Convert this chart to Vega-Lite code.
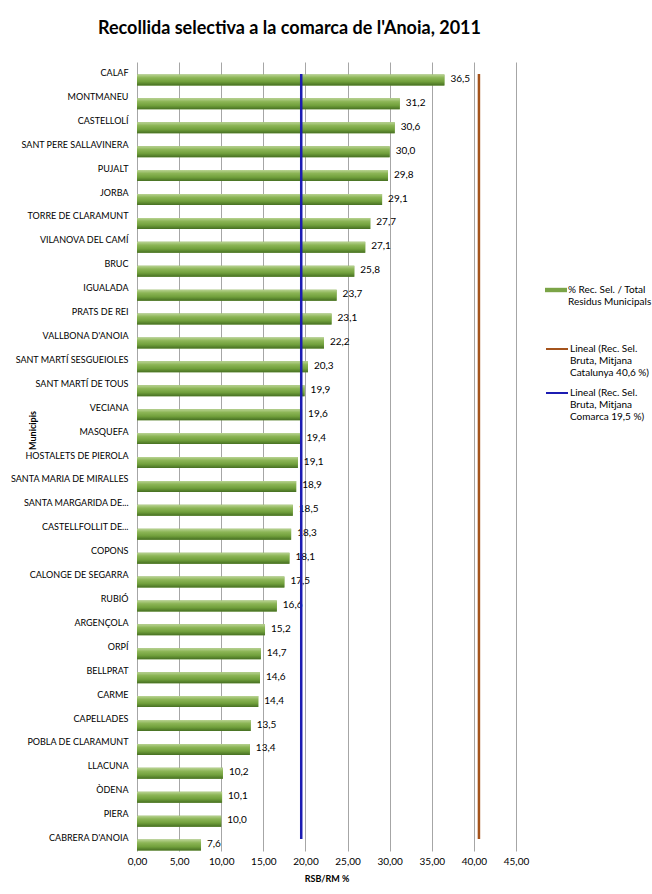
{
  "$schema": "https://vega.github.io/schema/vega-lite/v6.json",
  "width": 379,
  "height": 789,
  "autosize": {"type": "none"},
  "padding": {"left": 137, "top": 62, "right": 136, "bottom": 43},
  "background": "white",
  "title": {
    "text": "Recollida selectiva a la comarca de l'Anoia, 2011",
    "anchor": "start",
    "frame": "group",
    "dx": -39,
    "offset": 24,
    "font": "Lato",
    "fontSize": 18,
    "fontWeight": "bold",
    "color": "#000000"
  },
  "config": {
    "locale": {"number": {"decimal": ",", "thousands": ".", "grouping": [3], "currency": ["", " €"]}},
    "font": "Lato",
    "view": {"stroke": null}
  },
  "datasets": {
    "munis": [
      {"Municipi": "CALAF", "valor": 36.5},
      {"Municipi": "MONTMANEU", "valor": 31.2},
      {"Municipi": "CASTELLOLÍ", "valor": 30.6},
      {"Municipi": "SANT PERE SALLAVINERA", "valor": 30.0},
      {"Municipi": "PUJALT", "valor": 29.8},
      {"Municipi": "JORBA", "valor": 29.1},
      {"Municipi": "TORRE DE CLARAMUNT", "valor": 27.7},
      {"Municipi": "VILANOVA DEL CAMÍ", "valor": 27.1},
      {"Municipi": "BRUC", "valor": 25.8},
      {"Municipi": "IGUALADA", "valor": 23.7},
      {"Municipi": "PRATS DE REI", "valor": 23.1},
      {"Municipi": "VALLBONA D'ANOIA", "valor": 22.2},
      {"Municipi": "SANT MARTÍ SESGUEIOLES", "valor": 20.3},
      {"Municipi": "SANT MARTÍ DE TOUS", "valor": 19.9},
      {"Municipi": "VECIANA", "valor": 19.6},
      {"Municipi": "MASQUEFA", "valor": 19.4},
      {"Municipi": "HOSTALETS DE PIEROLA", "valor": 19.1},
      {"Municipi": "SANTA MARIA DE MIRALLES", "valor": 18.9},
      {"Municipi": "SANTA MARGARIDA DE...", "valor": 18.5},
      {"Municipi": "CASTELLFOLLIT DE...", "valor": 18.3},
      {"Municipi": "COPONS", "valor": 18.1},
      {"Municipi": "CALONGE DE SEGARRA", "valor": 17.5},
      {"Municipi": "RUBIÓ", "valor": 16.6},
      {"Municipi": "ARGENÇOLA", "valor": 15.2},
      {"Municipi": "ORPÍ", "valor": 14.7},
      {"Municipi": "BELLPRAT", "valor": 14.6},
      {"Municipi": "CARME", "valor": 14.4},
      {"Municipi": "CAPELLADES", "valor": 13.5},
      {"Municipi": "POBLA DE CLARAMUNT", "valor": 13.4},
      {"Municipi": "LLACUNA", "valor": 10.2},
      {"Municipi": "ÒDENA", "valor": 10.1},
      {"Municipi": "PIERA", "valor": 10.0},
      {"Municipi": "CABRERA D'ANOIA", "valor": 7.6}
    ],
    "linies": [
      {"serie": "Lineal (Rec. Sel. Bruta, Mitjana Catalunya 40,6 %)", "valor": 40.6, "des_de": "CALAF", "fins_a": "CABRERA D'ANOIA"},
      {"serie": "Lineal (Rec. Sel. Bruta, Mitjana Comarca 19,5 %)", "valor": 19.5, "des_de": "CALAF", "fins_a": "CABRERA D'ANOIA"}
    ]
  },
  "encoding": {
    "y": {
      "field": "Municipi",
      "type": "nominal",
      "sort": null,
      "scale": {"paddingInner": 0, "paddingOuter": 0},
      "axis": {
        "title": "Municipis",
        "titleFont": "Lato",
        "titleFontSize": 9,
        "titleFontWeight": "bold",
        "titleColor": "#000000",
        "titleX": -105,
        "titleY": 368,
        "titleAngle": -90,
        "titleAlign": "center",
        "titleBaseline": "middle",
        "labelFont": "Lato",
        "labelFontSize": 9,
        "labelColor": "#000000",
        "labelPadding": 9,
        "labelOffset": -1,
        "labelLimit": 200,
        "ticks": false,
        "domain": false,
        "grid": false
      }
    }
  },
  "layer": [
    {
      "data": {"name": "munis"},
      "mark": {"type": "bar", "height": 11, "yOffset": 6},
      "encoding": {
        "x": {
          "field": "valor",
          "type": "quantitative",
          "scale": {"domain": [0, 45], "nice": false, "zero": true},
          "axis": {
            "title": "RSB/RM %",
            "titleFont": "Lato",
            "titleFontSize": 9,
            "titleFontWeight": "bold",
            "titleColor": "#000000",
            "titlePadding": 8,
            "values": [0, 5, 10, 15, 20, 25, 30, 35, 40, 45],
            "format": ".2f",
            "labelFont": "Lato",
            "labelFontSize": 10,
            "labelColor": "#000000",
            "labelPadding": 5,
            "labelFlush": false,
            "labelOverlap": false,
            "ticks": false,
            "domain": false,
            "grid": true,
            "gridColor": "#a6a6a6",
            "gridWidth": 1
          }
        },
        "fill": {
          "datum": "% Rec. Sel. / Total Residus Municipals",
          "type": "nominal",
          "scale": {"range": ["#7ba447"]},
          "legend": {
            "title": null,
            "orient": "none",
            "legendX": 408,
            "legendY": 217,
            "symbolType": "M-1,-0.2H1V0.2H-1Z",
            "symbolSize": 484,
            "symbolStrokeWidth": 0,
            "labelFont": "Lato",
            "labelFontSize": 10,
            "labelColor": "#000000",
            "labelOffset": 1,
            "labelExpr": "['% Rec. Sel. / Total', 'Residus Municipals']"
          }
        }
      }
    },
    {
      "data": {"name": "munis"},
      "mark": {
        "type": "bar",
        "height": 11,
        "yOffset": 6,
        "fill": {
          "gradient": "linear",
          "x1": 0, "y1": 0, "x2": 0, "y2": 1,
          "stops": [
            {"offset": 0, "color": "#b9d393"},
            {"offset": 0.3, "color": "#8cb556"},
            {"offset": 0.65, "color": "#71a03c"},
            {"offset": 1, "color": "#466f22"}
          ]
        }
      },
      "encoding": {
        "x": {"field": "valor", "type": "quantitative"}
      }
    },
    {
      "data": {"name": "munis"},
      "mark": {"type": "text", "align": "left", "baseline": "middle", "dx": 6, "yOffset": 5, "font": "Lato", "fontSize": 10, "color": "#000000"},
      "encoding": {
        "x": {"field": "valor", "type": "quantitative"},
        "text": {"field": "valor", "type": "quantitative", "format": ".1f"}
      }
    },
    {
      "data": {"name": "linies"},
      "mark": {"type": "rule", "strokeWidth": 2.5},
      "encoding": {
        "x": {"field": "valor", "type": "quantitative"},
        "y": {"field": "des_de", "type": "nominal", "sort": null},
        "y2": {"field": "fins_a"},
        "stroke": {
          "field": "serie",
          "type": "nominal",
          "scale": {
            "domain": ["Lineal (Rec. Sel. Bruta, Mitjana Catalunya 40,6 %)", "Lineal (Rec. Sel. Bruta, Mitjana Comarca 19,5 %)"],
            "range": ["#a4531c", "#1c1cb2"]
          },
          "legend": {
            "title": null,
            "orient": "none",
            "legendX": 408,
            "legendY": 275,
            "symbolType": "stroke",
            "symbolSize": 484,
            "symbolStrokeWidth": 2,
            "labelFont": "Lato",
            "labelFontSize": 10,
            "labelColor": "#000000",
            "labelOffset": 1,
            "rowPadding": 3,
            "labelExpr": "indexof(datum.label, 'Catalunya') >= 0 ? ['Lineal (Rec. Sel.', 'Bruta, Mitjana', 'Catalunya 40,6 %)'] : ['Lineal (Rec. Sel.', 'Bruta, Mitjana', 'Comarca 19,5 %)']"
          }
        }
      }
    }
  ]
}
